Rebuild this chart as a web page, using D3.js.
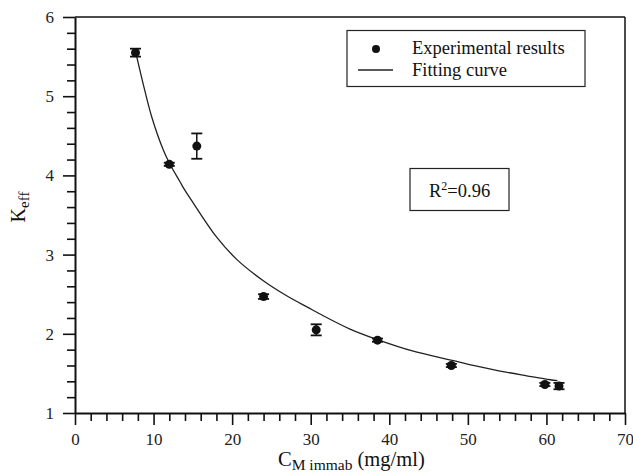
<!DOCTYPE html>
<html>
<head>
<meta charset="utf-8">
<script src="https://cdnjs.cloudflare.com/ajax/libs/d3/7.8.5/d3.min.js"></script>
<style>
  body { margin: 0; background: #fff; }
  svg { display: block; }
  text { font-family: "Liberation Serif", "Times New Roman", Times, serif; }
</style>
</head>
<body>
<svg id="chart"></svg>
<script>
// experimental points
var concX = [7.7, 12.0, 15.5, 24.0, 30.7, 38.5, 47.9, 59.8, 61.6];
var keffY = [5.55, 4.14, 4.37, 2.47, 2.05, 1.92, 1.60, 1.36, 1.34];
var keffErr = [0.05, 0.02, 0.16, 0.03, 0.07, 0.02, 0.02, 0.02, 0.04];

// fitting curve
var fitX = [7.76, 8.69, 9.76, 11.24, 12.09, 13.36, 14.0, 15.06, 18.03, 20.58, 23.97, 26.94, 29.69, 31.18, 35.0, 38.4, 43.06, 46.45, 48.15, 50.69, 54.09, 57.49, 60.46, 61.4];
var fitY = [5.54, 5.15, 4.74, 4.32, 4.14, 3.92, 3.81, 3.65, 3.22, 2.94, 2.67, 2.48, 2.33, 2.25, 2.06, 1.93, 1.78, 1.70, 1.66, 1.60, 1.53, 1.47, 1.42, 1.41];

var xMajor = [0, 10, 20, 30, 40, 50, 60, 70];
var yMajor = [1, 2, 3, 4, 5, 6];

var width = 633, height = 474;
var serif = "'Liberation Serif', 'Times New Roman', Times, serif";
var svg = d3.select("#chart").attr("width", width).attr("height", height);

//scales
var xscale = d3.scaleLinear().domain([0, 70]).range([75, 625]);
var yscale = d3.scaleLinear().domain([1, 6]).range([413, 17]);

var xMinor = d3.range(0, 70.01, 2).filter(function (v) { return v % 10 != 0; });
var yMinor = d3.range(1, 6.001, 0.2).filter(function (v) { return Math.abs(v - Math.round(v)) > 0.01; });

// frame top / right
svg.append("line")
  .attr("x1", xscale(0)).attr("x2", xscale(70))
  .attr("y1", yscale(6)).attr("y2", yscale(6))
  .attr("stroke", "#111").attr("stroke-width", 1.5);
svg.append("line")
  .attr("x1", xscale(70)).attr("x2", xscale(70))
  .attr("y1", yscale(6)).attr("y2", yscale(1))
  .attr("stroke", "#111").attr("stroke-width", 1.5);

// x axis
svg.append("g")
  .attr("transform", "translate(0," + yscale(1) + ")")
  .call(d3.axisBottom(xscale).tickValues(xMajor).tickFormat(d3.format("d"))
    .tickSize(12).tickSizeOuter(0).tickPadding(8));
svg.append("g")
  .attr("transform", "translate(0," + yscale(1) + ")")
  .call(d3.axisBottom(xscale).tickValues(xMinor).tickSize(8).tickSizeOuter(0).tickFormat(""))
  .select(".domain").remove();

// y axis
svg.append("g")
  .attr("transform", "translate(" + xscale(0) + ",0)")
  .call(d3.axisLeft(yscale).tickValues(yMajor).tickFormat(d3.format("d"))
    .tickSize(12).tickSizeOuter(0).tickPadding(9));
svg.append("g")
  .attr("transform", "translate(" + xscale(0) + ",0)")
  .call(d3.axisLeft(yscale).tickValues(yMinor).tickSize(8).tickSizeOuter(0).tickFormat(""))
  .select(".domain").remove();

svg.selectAll("g").attr("font-family", serif);
svg.selectAll(".domain").attr("stroke", "#111").attr("stroke-width", 2);
svg.selectAll(".tick line").attr("stroke", "#111").attr("stroke-width", 1.6);
svg.selectAll(".tick text")
  .attr("fill", "#222")
  .style("font-family", serif)
  .style("font-size", "17px");

// axis titles
var xt = svg.append("text")
  .attr("x", 278).attr("y", 466)
  .attr("fill", "#111")
  .style("font-size", "20.5px");
xt.append("tspan").text("C");
xt.append("tspan").text("M immab").style("font-size", "15.5px").attr("dy", 4);
xt.append("tspan").text(" (mg/ml)").attr("dy", -4);

var yt = svg.append("text")
  .attr("transform", "translate(25,207) rotate(-90)")
  .attr("text-anchor", "middle")
  .attr("fill", "#111")
  .style("font-size", "20px");
yt.append("tspan").text("K");
yt.append("tspan").text("eff").style("font-size", "15px").attr("dy", 4);

// fitting curve
var line = d3.line()
  .x(function (d, i) { return xscale(fitX[i]); })
  .y(function (d, i) { return yscale(fitY[i]); })
  .curve(d3.curveCatmullRom);
svg.append("path")
  .datum(fitX)
  .attr("d", line)
  .attr("fill", "none")
  .attr("stroke", "#222")
  .attr("stroke-width", 1.3);

// error bars
var eb = svg.selectAll(".err")
  .data(concX)
  .enter()
  .append("g")
  .attr("class", "err");
eb.append("line")
  .attr("x1", function (d) { return xscale(d); })
  .attr("x2", function (d) { return xscale(d); })
  .attr("y1", function (d, i) { return yscale(keffY[i] + keffErr[i]); })
  .attr("y2", function (d, i) { return yscale(keffY[i] - keffErr[i]); })
  .attr("stroke", "#111").attr("stroke-width", 1.5);
[1, -1].forEach(function (s) {
  eb.append("line")
    .attr("x1", function (d) { return xscale(d) - 5.5; })
    .attr("x2", function (d) { return xscale(d) + 5.5; })
    .attr("y1", function (d, i) { return yscale(keffY[i] + s * keffErr[i]); })
    .attr("y2", function (d, i) { return yscale(keffY[i] + s * keffErr[i]); })
    .attr("stroke", "#111").attr("stroke-width", 1.8);
});

// points
svg.selectAll(".pt")
  .data(concX)
  .enter()
  .append("circle")
  .attr("class", "pt")
  .attr("cx", function (d) { return xscale(d); })
  .attr("cy", function (d, i) { return yscale(keffY[i]); })
  .attr("r", 4.5)
  .attr("fill", "#111");

// legend
svg.append("rect")
  .attr("x", 347).attr("y", 30.5)
  .attr("width", 238).attr("height", 56)
  .attr("fill", "#fff").attr("stroke", "#222").attr("stroke-width", 1.2);
svg.append("circle").attr("cx", 376).attr("cy", 49).attr("r", 4).attr("fill", "#111");
svg.append("line")
  .attr("x1", 358).attr("x2", 393).attr("y1", 70).attr("y2", 70)
  .attr("stroke", "#222").attr("stroke-width", 1.3);
svg.append("text").attr("x", 412).attr("y", 54)
  .attr("fill", "#111").style("font-size", "18.5px").text("Experimental results");
svg.append("text").attr("x", 412).attr("y", 76)
  .attr("fill", "#111").style("font-size", "18.5px").text("Fitting curve");

// R^2 box
svg.append("rect")
  .attr("x", 410).attr("y", 168.5)
  .attr("width", 99).attr("height", 42)
  .attr("fill", "#fff").attr("stroke", "#222").attr("stroke-width", 1.2);
var r2 = svg.append("text")
  .attr("x", 429).attr("y", 197)
  .attr("fill", "#111").style("font-size", "18.5px");
r2.append("tspan").text("R");
r2.append("tspan").text("2").style("font-size", "12px").attr("dy", -7);
r2.append("tspan").text("=0.96").attr("dy", 7);
</script>
</body>
</html>
